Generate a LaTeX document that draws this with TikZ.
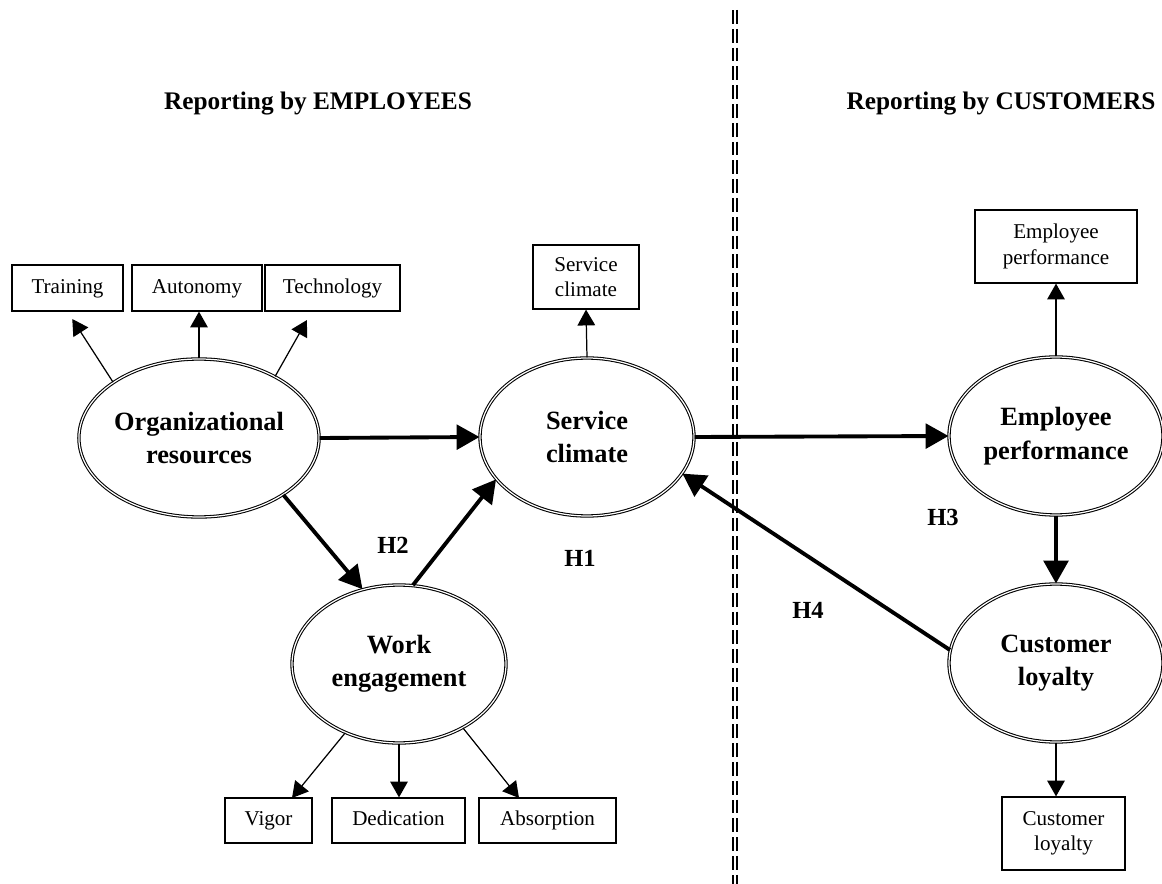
\documentclass[tikz,border=0pt]{standalone}
\usepackage{fontspec}
\setmainfont{Liberation Serif}
\usetikzlibrary{shapes.geometric,arrows.meta}

\def\px{0.02cm}

\begin{document}
\begin{tikzpicture}[x=\px, y=-\px,
    latent/.style={ellipse, draw, double, double distance=0.7pt, line width=0.6pt,
      minimum width=214*\px, minimum height=158*\px, inner sep=0pt, align=center,
      font=\fontsize{15}{19}\selectfont\bfseries},
    indic/.style 2 args={draw, line width=0.7pt, minimum width=#1*\px, minimum height=#2*\px,
      inner sep=0pt, align=center, font=\fontsize{12}{14.5}\selectfont},
    oneline/.style={text height=8.5pt, text depth=2.5pt},
    load/.style={line width=0.7pt, -{Triangle[length=9pt,width=10pt]}},
    effect/.style={line width=2.2pt, -{Triangle[length=13pt,width=14pt]}},
    hyp/.style={font=\fontsize{14}{16}\selectfont\bfseries},
    side/.style={font=\fontsize{14.4}{16}\selectfont\bfseries}]

    \useasboundingbox (0,0) rectangle (1162,884);

    % who reports what
    \node[side] (empl) at (318,104) {Reporting by EMPLOYEES};
    \node[side] (cust) at (1001,104) {Reporting by CUSTOMERS};
    \draw[double, double distance=1pt, line width=1.1pt, dash pattern=on 7.9pt off 2.8pt]
        (735,10) -- (735,884);

    % latent variables
    \node[latent] (org) at (199,438) {Organizational\\resources};
    \node[latent] (sc) at (587,437) {Service\\climate};
    \node[latent] (we) at (399,664) {Work\\engagement};
    \node[latent] (ep) at (1056,436) {Employee\\performance};
    \node[latent] (cl) at (1056,663) {Customer\\loyalty};

    % indicators
    \node[indic={111}{46}, oneline] (train) at (67.5,288) {Training};
    \node[indic={130}{46}, oneline] (auto) at (197,288) {Autonomy};
    \node[indic={135}{46}, oneline] (tech) at (332.5,288) {Technology};
    \node[indic={106}{64}] (scbox) at (586,277) {Service\\climate};
    \node[indic={162}{73}] (epbox) at (1056,246.5) {Employee\\performance};
    \node[indic={123}{73}] (clbox) at (1063.5,833.5) {Customer\\loyalty};
    \node[indic={87}{45}, oneline] (vigor) at (268.5,820.5) {Vigor};
    \node[indic={133}{45}, oneline] (dedic) at (398.5,820.5) {Dedication};
    \node[indic={137}{45}, oneline] (absorb) at (547.5,820.5) {Absorption};

    \coordinate (techtip) at (307,320);
    \coordinate (vigortip) at (292,798);
    \coordinate (absorbtip) at (519,798);

    \draw[load, shorten >=5pt] (org.147) -- (train.south);
    \draw[load] (org.north) -- (org.north |- auto.south);
    \draw[load] (org.39) -- (techtip);
    \draw[load] (sc.north) -- (scbox.south);
    \draw[load] (ep.north) -- (epbox.south);
    \draw[load] (cl.south) -- (cl.south |- clbox.north);
    \draw[load] (we.-128) -- (vigortip);
    \draw[load] (we.south) -- (we.south |- dedic.north);
    \draw[load] (we.-45) -- (absorbtip);

    % structural paths
    \draw[effect] (org.east) -- (sc.west);
    \draw[effect] (org.-34) -- (we.116);
    \draw[effect] (we.80) -- (sc.205);
    \draw[effect] (sc.east) -- (ep.west);
    \draw[effect] (ep.south) -- (cl.north);
    \draw[effect] (cl.173) -- (sc.-21);

    \node[hyp] (h1) at (580,558) {H1};
    \node[hyp] (h2) at (393,545) {H2};
    \node[hyp] (h3) at (943,517) {H3};
    \node[hyp] (h4) at (808,610) {H4};
\end{tikzpicture}
\end{document}
